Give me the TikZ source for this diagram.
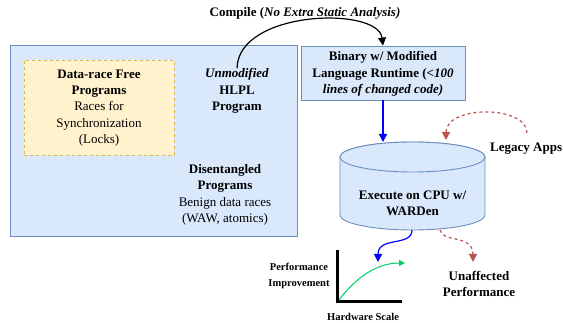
\documentclass[tikz,border=0pt]{standalone}
\usepackage{fontspec}
\setmainfont{Liberation Serif}
\usepackage{tikz}
\usetikzlibrary{arrows.meta}
\usetikzlibrary{positioning}
\definecolor{fillblue}{HTML}{DAE8FC}
\definecolor{lineblue}{HTML}{6C8EBF}
\definecolor{fillyellow}{HTML}{FFF2CC}
\definecolor{lineyellow}{HTML}{D6B656}
\definecolor{legacyred}{HTML}{B85450}
\definecolor{scalegreen}{HTML}{00CC66}

\tikzset{
  bluebox/.style={draw=lineblue, fill=fillblue, line width=0.9pt},
  yellowbox/.style={draw=lineyellow, fill=fillyellow, dashed, line width=0.9pt},
  txt/.style={align=center, inner sep=0pt, font=\fontsize{13}{16.4}\selectfont},
  boldtxt/.style={txt, font=\fontsize{13}{16.4}\selectfont\bfseries},
  smalltxt/.style={align=center, inner sep=0pt, font=\fontsize{10.5}{16}\selectfont\bfseries},
  flowarrow/.style={line width=1.2pt, -{Triangle[length=8pt,width=8pt]}},
  legacyarrow/.style={flowarrow, draw=legacyred, dashed, -{Triangle[length=8pt,width=8pt,fill=legacyred]}},
}

\begin{document}
\begin{tikzpicture}[x=1pt, y=-1pt]
  \useasboundingbox (0, 0) rectangle (563, 323);

  % programs
  \node[bluebox, anchor=north west, minimum width=287, minimum height=191] (hlpl) at (10, 45) {};
  \node[yellowbox, minimum width=150, minimum height=95] (drfbox) at (99, 107.5) {};
  \node[txt] (drf) at (99, 108) {\textbf{Data-race Free}\\\textbf{Programs}\\Races for\\Synchronization\\(Locks)};
  \node[boldtxt] (unmod) at (237, 91) {\textit{Unmodified}\\HLPL\\Program};
  \node[txt] (disent) at (225, 195) {\textbf{Disentangled}\\\textbf{Programs}\\Benign data races\\(WAW, atomics)};

  % binary
  \node[bluebox, minimum width=164, minimum height=54] (binbox) at (383, 73) {};
  \node[boldtxt] (binary) at (383, 74)
    {Binary w/ Modified\\Language Runtime (\textit{<100}\\\textit{lines of changed code)}};
  \node[boldtxt] (compile) at (305, 13) {Compile (\textit{No Extra Static Analysis)}};

  % cylinder
  \path[bluebox] (340, 157) -- (340, 215)
    arc[start angle=180, end angle=360, x radius=72.5pt, y radius=15pt]
    -- (485, 157)
    arc[start angle=0, end angle=180, x radius=72.5pt, y radius=15pt] -- cycle;
  \draw[bluebox] (412.5, 157) ellipse[x radius=72.5pt, y radius=15pt];
  \node[boldtxt] (exec) at (412.5, 203.5) {Execute on CPU w/\\WARDen};
  \coordinate (cyltop) at (383, 142);
  \coordinate (cylbot) at (412, 230);
  \coordinate (cylred) at (440, 230);
  \coordinate (legstart) at (527, 133);
  \coordinate (legend) at (446, 140);

  \node[boldtxt, anchor=west] (legacy) at (490, 149) {Legacy Apps};
  \node[boldtxt] (unaff) at (479, 284) {Unaffected\\Performance};

  % scaling plot
  \coordinate (ytop) at (337, 250);
  \coordinate (origin) at (337, 302);
  \coordinate (xend) at (402, 302);
  \draw[line width=3pt] (ytop) -- (origin) -- (xend);
  \node[smalltxt] (perf) at (299, 276) {Performance\\Improvement};
  \node[smalltxt] (hwscale) at (363, 317) {Hardware Scale};
  \coordinate (curvestart) at (339, 300);
  \coordinate (curveend) at (405, 263);
  \coordinate (plottop) at (378, 262);
  \coordinate (unafftop) at (473, 262);

  % connectors
  \draw[flowarrow] (unmod.north) .. controls (238, 10) and (378, 6) .. (binbox.north);
  \draw[flowarrow, blue] (binbox.south -| cyltop) -- (cyltop);
  \draw[legacyarrow] (legstart) .. controls (527, 105) and (446, 105) .. (legend);
  \draw[flowarrow, blue] (cylbot) .. controls (412, 247) and (378, 236) .. (plottop);
  \draw[legacyarrow] (cylred) .. controls (442, 243) and (473, 234) .. (unafftop);
  \draw[line width=1pt, scalegreen, -{Triangle[length=6pt,width=6pt]}] (curvestart) .. controls (360, 272) and (382, 263) .. (curveend);
\end{tikzpicture}
\end{document}
